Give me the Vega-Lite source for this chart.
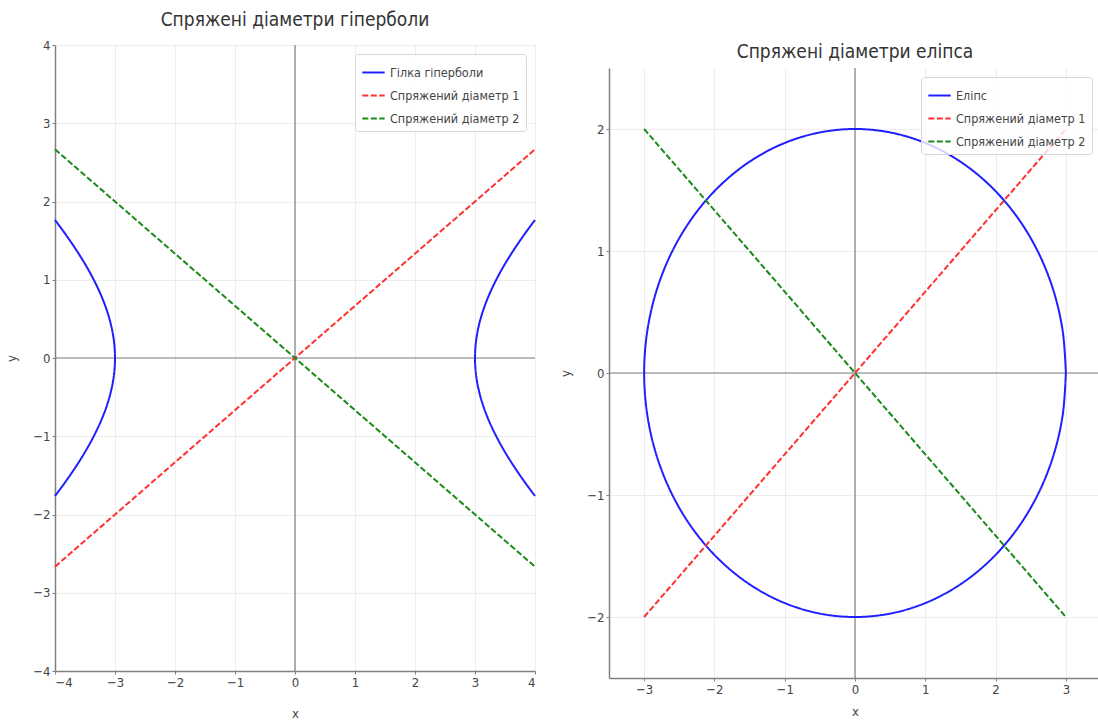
{
  "$schema": "https://vega.github.io/schema/vega-lite/v6.json",
  "padding": {"left": 5, "top": 11, "right": 0, "bottom": 0},
  "background": "white",
  "config": {
    "font": "DejaVu Sans Condensed, DejaVu Sans",
    "view": {"stroke": null},
    "axis": {
      "domainColor": "#808080", "domainWidth": 1.5,
      "tickColor": "#808080", "tickSize": 3, "tickWidth": 1,
      "labelFontSize": 13, "labelColor": "#444", "labelFont": "DejaVu Sans Condensed, DejaVu Sans",
      "titleFontSize": 13, "titleFontWeight": "normal", "titleColor": "#444", "titleFont": "DejaVu Sans Condensed, DejaVu Sans",
      "gridColor": "#e8e8e8", "gridWidth": 0.8
    },
    "title": {"fontSize": 19, "fontWeight": "normal", "color": "#333", "font": "DejaVu Sans Condensed, DejaVu Sans"},
    "legend": {
      "offset": 9, "title": null,
      "fillColor": "rgba(255,255,255,0.8)", "strokeColor": "#d6d6d6", "cornerRadius": 3, "padding": 6,
      "symbolType": "stroke", "symbolSize": 500, "symbolStrokeWidth": 2,
      "labelFontSize": 12.5, "labelColor": "#444", "labelFont": "DejaVu Sans Condensed, DejaVu Sans", "labelLimit": 0, "rowPadding": 4
    }
  },
  "spacing": 20,
  "resolve": {"scale": {"color": "independent", "strokeDash": "independent", "x": "independent", "y": "independent"}, "legend": {"color": "independent", "strokeDash": "independent"}},
  "hconcat": [
    {
      "resolve": {"scale": {"color": "independent", "strokeDash": "independent", "x": "independent", "y": "independent"}, "legend": {"color": "independent", "strokeDash": "independent"}},
      "vconcat": [
        {
          "width": 480, "height": 626,
          "title": {"text": "Спряжені діаметри гіперболи", "offset": 9},
          "layer": [
            {
              "data": {"values": [{"x": 0}]},
              "mark": {"type": "rule", "color": "#808080", "strokeWidth": 1.2},
              "encoding": {"x": {"field": "x", "type": "quantitative", "scale": {"domain": [-4, 4], "nice": false, "zero": false}}}
            },
            {
              "data": {"values": [{"y": 0}]},
              "mark": {"type": "rule", "color": "#808080", "strokeWidth": 1.2},
              "encoding": {"y": {"field": "y", "type": "quantitative", "scale": {"domain": [-4, 4], "nice": false, "zero": false}}}
            },
            {
              "data": {"values": [
                {"s": "Гілка гіперболи", "g": "R", "i": 0, "x": 4.0, "y": -1.7638},
                {"s": "Гілка гіперболи", "g": "R", "i": 1, "x": 3.8419, "y": -1.6},
                {"s": "Гілка гіперболи", "g": "R", "i": 2, "x": 3.662, "y": -1.4},
                {"s": "Гілка гіперболи", "g": "R", "i": 3, "x": 3.4986, "y": -1.2},
                {"s": "Гілка гіперболи", "g": "R", "i": 4, "x": 3.3541, "y": -1.0},
                {"s": "Гілка гіперболи", "g": "R", "i": 5, "x": 3.2311, "y": -0.8},
                {"s": "Гілка гіперболи", "g": "R", "i": 6, "x": 3.1321, "y": -0.6},
                {"s": "Гілка гіперболи", "g": "R", "i": 7, "x": 3.0594, "y": -0.4},
                {"s": "Гілка гіперболи", "g": "R", "i": 8, "x": 3.015, "y": -0.2},
                {"s": "Гілка гіперболи", "g": "R", "i": 9, "x": 3.0, "y": 0},
                {"s": "Гілка гіперболи", "g": "R", "i": 10, "x": 3.015, "y": 0.2},
                {"s": "Гілка гіперболи", "g": "R", "i": 11, "x": 3.0594, "y": 0.4},
                {"s": "Гілка гіперболи", "g": "R", "i": 12, "x": 3.1321, "y": 0.6},
                {"s": "Гілка гіперболи", "g": "R", "i": 13, "x": 3.2311, "y": 0.8},
                {"s": "Гілка гіперболи", "g": "R", "i": 14, "x": 3.3541, "y": 1.0},
                {"s": "Гілка гіперболи", "g": "R", "i": 15, "x": 3.4986, "y": 1.2},
                {"s": "Гілка гіперболи", "g": "R", "i": 16, "x": 3.662, "y": 1.4},
                {"s": "Гілка гіперболи", "g": "R", "i": 17, "x": 3.8419, "y": 1.6},
                {"s": "Гілка гіперболи", "g": "R", "i": 18, "x": 4.0, "y": 1.7638},
                {"s": "Гілка гіперболи", "g": "L", "i": 0, "x": -4.0, "y": -1.7638},
                {"s": "Гілка гіперболи", "g": "L", "i": 1, "x": -3.8419, "y": -1.6},
                {"s": "Гілка гіперболи", "g": "L", "i": 2, "x": -3.662, "y": -1.4},
                {"s": "Гілка гіперболи", "g": "L", "i": 3, "x": -3.4986, "y": -1.2},
                {"s": "Гілка гіперболи", "g": "L", "i": 4, "x": -3.3541, "y": -1.0},
                {"s": "Гілка гіперболи", "g": "L", "i": 5, "x": -3.2311, "y": -0.8},
                {"s": "Гілка гіперболи", "g": "L", "i": 6, "x": -3.1321, "y": -0.6},
                {"s": "Гілка гіперболи", "g": "L", "i": 7, "x": -3.0594, "y": -0.4},
                {"s": "Гілка гіперболи", "g": "L", "i": 8, "x": -3.015, "y": -0.2},
                {"s": "Гілка гіперболи", "g": "L", "i": 9, "x": -3.0, "y": 0},
                {"s": "Гілка гіперболи", "g": "L", "i": 10, "x": -3.015, "y": 0.2},
                {"s": "Гілка гіперболи", "g": "L", "i": 11, "x": -3.0594, "y": 0.4},
                {"s": "Гілка гіперболи", "g": "L", "i": 12, "x": -3.1321, "y": 0.6},
                {"s": "Гілка гіперболи", "g": "L", "i": 13, "x": -3.2311, "y": 0.8},
                {"s": "Гілка гіперболи", "g": "L", "i": 14, "x": -3.3541, "y": 1.0},
                {"s": "Гілка гіперболи", "g": "L", "i": 15, "x": -3.4986, "y": 1.2},
                {"s": "Гілка гіперболи", "g": "L", "i": 16, "x": -3.662, "y": 1.4},
                {"s": "Гілка гіперболи", "g": "L", "i": 17, "x": -3.8419, "y": 1.6},
                {"s": "Гілка гіперболи", "g": "L", "i": 18, "x": -4.0, "y": 1.7638},
                {"s": "Спряжений діаметр 1", "g": "a", "i": 0, "x": -4, "y": -2.6667},
                {"s": "Спряжений діаметр 1", "g": "a", "i": 1, "x": 4, "y": 2.6667},
                {"s": "Спряжений діаметр 2", "g": "b", "i": 0, "x": -4, "y": 2.6667},
                {"s": "Спряжений діаметр 2", "g": "b", "i": 1, "x": 4, "y": -2.6667}
              ]},
              "mark": {"type": "line", "strokeWidth": 2, "interpolate": "catmull-rom"},
              "encoding": {
                "x": {"field": "x", "type": "quantitative", "scale": {"domain": [-4, 4], "nice": false, "zero": false}, "axis": {"values": [-4, -3, -2, -1, 0, 1, 2, 3, 4], "format": "d", "title": "x", "titlePadding": 18}},
                "y": {"field": "y", "type": "quantitative", "scale": {"domain": [-4, 4], "nice": false, "zero": false}, "axis": {"values": [-4, -3, -2, -1, 0, 1, 2, 3, 4], "format": "d", "title": "y", "titlePadding": 14}},
                "color": {"field": "s", "type": "nominal", "scale": {"domain": ["Гілка гіперболи", "Спряжений діаметр 1", "Спряжений діаметр 2"], "range": ["#1f1fff", "#ff3030", "#1a8a1a"]}, "legend": {"orient": "top-right"}},
                "strokeDash": {"field": "s", "type": "nominal", "scale": {"domain": ["Гілка гіперболи", "Спряжений діаметр 1", "Спряжений діаметр 2"], "range": [[1, 0], [6, 2.5], [6, 2.5]]}, "legend": {"orient": "top-right"}},
                "detail": {"field": "g"},
                "order": {"field": "i", "type": "quantitative"}
              }
            }
          ]
        }
      ]
    },
    {
      "spacing": -3,
      "resolve": {"scale": {"color": "independent", "strokeDash": "independent", "x": "independent", "y": "independent"}, "legend": {"color": "independent", "strokeDash": "independent"}},
      "vconcat": [
        {
          "width": 492, "height": 1,
          "data": {"values": [{"a": 0}]},
          "mark": {"type": "point", "opacity": 0, "size": 1},
          "encoding": {}
        },
        {
          "width": 492, "height": 610,
          "title": {"text": "Спряжені діаметри еліпса", "offset": 5},
          "layer": [
            {
              "data": {"values": [{"x": 0}]},
              "mark": {"type": "rule", "color": "#808080", "strokeWidth": 1.2},
              "encoding": {"x": {"field": "x", "type": "quantitative", "scale": {"domain": [-3.5, 3.5], "nice": false, "zero": false}}}
            },
            {
              "data": {"values": [{"y": 0}]},
              "mark": {"type": "rule", "color": "#808080", "strokeWidth": 1.2},
              "encoding": {"y": {"field": "y", "type": "quantitative", "scale": {"domain": [-2.5, 2.5], "nice": false, "zero": false}}}
            },
            {
              "data": {"values": [
                {"s": "Еліпс", "g": "e", "i": 0, "x": 3, "y": 0},
                {"s": "Еліпс", "g": "e", "i": 1, "x": 2.9544, "y": 0.3473},
                {"s": "Еліпс", "g": "e", "i": 2, "x": 2.8191, "y": 0.684},
                {"s": "Еліпс", "g": "e", "i": 3, "x": 2.5981, "y": 1.0},
                {"s": "Еліпс", "g": "e", "i": 4, "x": 2.2981, "y": 1.2856},
                {"s": "Еліпс", "g": "e", "i": 5, "x": 1.9284, "y": 1.5321},
                {"s": "Еліпс", "g": "e", "i": 6, "x": 1.5, "y": 1.7321},
                {"s": "Еліпс", "g": "e", "i": 7, "x": 1.0261, "y": 1.8794},
                {"s": "Еліпс", "g": "e", "i": 8, "x": 0.5209, "y": 1.9696},
                {"s": "Еліпс", "g": "e", "i": 9, "x": 0, "y": 2},
                {"s": "Еліпс", "g": "e", "i": 10, "x": -0.5209, "y": 1.9696},
                {"s": "Еліпс", "g": "e", "i": 11, "x": -1.0261, "y": 1.8794},
                {"s": "Еліпс", "g": "e", "i": 12, "x": -1.5, "y": 1.7321},
                {"s": "Еліпс", "g": "e", "i": 13, "x": -1.9284, "y": 1.5321},
                {"s": "Еліпс", "g": "e", "i": 14, "x": -2.2981, "y": 1.2856},
                {"s": "Еліпс", "g": "e", "i": 15, "x": -2.5981, "y": 1.0},
                {"s": "Еліпс", "g": "e", "i": 16, "x": -2.8191, "y": 0.684},
                {"s": "Еліпс", "g": "e", "i": 17, "x": -2.9544, "y": 0.3473},
                {"s": "Еліпс", "g": "e", "i": 18, "x": -3, "y": 0},
                {"s": "Еліпс", "g": "e", "i": 19, "x": -2.9544, "y": -0.3473},
                {"s": "Еліпс", "g": "e", "i": 20, "x": -2.8191, "y": -0.684},
                {"s": "Еліпс", "g": "e", "i": 21, "x": -2.5981, "y": -1.0},
                {"s": "Еліпс", "g": "e", "i": 22, "x": -2.2981, "y": -1.2856},
                {"s": "Еліпс", "g": "e", "i": 23, "x": -1.9284, "y": -1.5321},
                {"s": "Еліпс", "g": "e", "i": 24, "x": -1.5, "y": -1.7321},
                {"s": "Еліпс", "g": "e", "i": 25, "x": -1.0261, "y": -1.8794},
                {"s": "Еліпс", "g": "e", "i": 26, "x": -0.5209, "y": -1.9696},
                {"s": "Еліпс", "g": "e", "i": 27, "x": 0, "y": -2},
                {"s": "Еліпс", "g": "e", "i": 28, "x": 0.5209, "y": -1.9696},
                {"s": "Еліпс", "g": "e", "i": 29, "x": 1.0261, "y": -1.8794},
                {"s": "Еліпс", "g": "e", "i": 30, "x": 1.5, "y": -1.7321},
                {"s": "Еліпс", "g": "e", "i": 31, "x": 1.9284, "y": -1.5321},
                {"s": "Еліпс", "g": "e", "i": 32, "x": 2.2981, "y": -1.2856},
                {"s": "Еліпс", "g": "e", "i": 33, "x": 2.5981, "y": -1.0},
                {"s": "Еліпс", "g": "e", "i": 34, "x": 2.8191, "y": -0.684},
                {"s": "Еліпс", "g": "e", "i": 35, "x": 2.9544, "y": -0.3473},
                {"s": "Еліпс", "g": "e", "i": 36, "x": 3, "y": 0},
                {"s": "Спряжений діаметр 1", "g": "a", "i": 0, "x": -3, "y": -2},
                {"s": "Спряжений діаметр 1", "g": "a", "i": 1, "x": 3, "y": 2},
                {"s": "Спряжений діаметр 2", "g": "b", "i": 0, "x": -3, "y": 2},
                {"s": "Спряжений діаметр 2", "g": "b", "i": 1, "x": 3, "y": -2}
              ]},
              "mark": {"type": "line", "strokeWidth": 2, "interpolate": "catmull-rom"},
              "encoding": {
                "x": {"field": "x", "type": "quantitative", "scale": {"domain": [-3.5, 3.5], "nice": false, "zero": false}, "axis": {"values": [-3, -2, -1, 0, 1, 2, 3], "format": "d", "title": "x", "titlePadding": 9}},
                "y": {"field": "y", "type": "quantitative", "scale": {"domain": [-2.5, 2.5], "nice": false, "zero": false}, "axis": {"values": [-2, -1, 0, 1, 2], "format": "d", "title": "y", "titlePadding": 14}},
                "color": {"field": "s", "type": "nominal", "scale": {"domain": ["Еліпс", "Спряжений діаметр 1", "Спряжений діаметр 2"], "range": ["#1f1fff", "#ff3030", "#1a8a1a"]}, "legend": {"orient": "top-right"}},
                "strokeDash": {"field": "s", "type": "nominal", "scale": {"domain": ["Еліпс", "Спряжений діаметр 1", "Спряжений діаметр 2"], "range": [[1, 0], [6, 2.5], [6, 2.5]]}, "legend": {"orient": "top-right"}},
                "detail": {"field": "g"},
                "order": {"field": "i", "type": "quantitative"}
              }
            }
          ]
        }
      ]
    }
  ]
}
